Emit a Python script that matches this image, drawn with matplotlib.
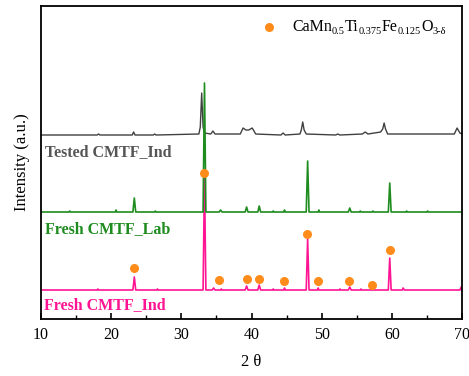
import matplotlib
matplotlib.use('Agg')
import matplotlib.pyplot as plt
from matplotlib.ticker import MultipleLocator

# XRD patterns (intensity in a.u., offset already included)
tested_x = [10, 18.0, 18.2, 18.4, 23.0, 23.2, 23.4, 26.0, 26.2, 26.4, 32.5, 32.7, 32.9, 33.1, 33.3,
            34.2, 34.5, 34.8, 38.4, 38.8, 39.2, 39.6, 40.1, 40.6, 44.2, 44.5, 44.8,
            46.9, 47.1, 47.3, 47.5, 47.8, 52.0, 52.3, 52.6, 55.8, 56.2, 56.6, 57.5, 58.4,
            58.7, 58.9, 59.1, 59.4, 66.0, 68.9, 69.3, 69.7, 70]
tested_y = [184, 184, 185, 184, 184, 187, 184, 184, 185, 184, 185, 192, 226, 192, 186,
            185, 188, 185, 185, 191, 189, 189, 191, 185, 184, 186, 184,
            185, 189, 197, 189, 185, 184, 185, 184, 185, 187, 185, 186, 187,
            190, 196, 190, 185, 185, 185, 191, 186, 185]

lab_x = [10, 14.0, 14.1, 14.2, 20.6, 20.7, 20.8, 23.1, 23.3, 23.5, 26.2, 26.3, 26.4,
         33.1, 33.3, 33.5, 35.4, 35.6, 35.8, 39.1, 39.3, 39.5, 40.9, 41.1, 41.3,
         43.0, 43.1, 43.2, 44.6, 44.7, 44.8, 47.8, 48.0, 48.2, 49.5, 49.6, 49.7,
         53.8, 54.0, 54.2, 55.4, 55.5, 55.6, 57.2, 57.3, 57.4, 59.5, 59.7, 59.9,
         62.0, 62.1, 62.2, 65.0, 65.1, 65.2, 70]
lab_y = [107, 107, 108, 107, 107, 109, 107, 107, 121, 107, 107, 108, 107,
         107, 236, 107, 107, 109, 107, 107, 112, 107, 107, 113, 107,
         107, 108, 107, 107, 109, 107, 107, 158, 107, 107, 109, 107,
         107, 111, 107, 107, 108, 107, 107, 108, 107, 107, 136, 107,
         107, 108, 107, 107, 108, 107, 107]

ind_x = [10, 18.0, 18.1, 18.2, 23.1, 23.3, 23.5, 26.5, 26.6, 26.7, 33.1, 33.3, 33.5,
         34.4, 34.6, 34.8, 35.6, 35.7, 35.8, 39.1, 39.3, 39.5, 40.9, 41.1, 41.3,
         43.0, 43.1, 43.2, 44.6, 44.7, 44.8, 47.8, 48.0, 48.2, 49.4, 49.5, 49.6,
         52.5, 52.6, 52.7, 53.8, 54.0, 54.2, 55.5, 55.6, 55.7, 59.5, 59.7, 59.9,
         61.5, 61.6, 61.8, 69.7, 69.9, 70]
ind_y = [29, 29, 30, 29, 29, 42, 29, 29, 30, 29, 29, 141, 29,
         29, 31, 29, 29, 30, 29, 29, 33, 29, 29, 34, 29,
         29, 30, 29, 29, 31, 29, 29, 80, 29, 29, 31, 29,
         29, 30, 29, 29, 32, 29, 29, 30, 29, 29, 61, 29,
         29, 31, 29, 29, 32, 29]

# phase markers
dot_x = [23.3, 33.3, 35.3, 39.3, 41.1, 44.7, 47.9, 49.5, 53.9, 57.2, 59.7]
dot_y = [51, 146, 39, 40, 40, 38, 85, 38, 38, 34, 69]

# legend formula, split into (text, is_subscript)
formula = [('CaMn', False), ('0.5', True), ('Ti', False), ('0.375', True),
           ('Fe', False), ('0.125', True), ('O', False), ('3-δ', True)]

gray = '#404040'
green = '#1f8c1f'
pink = '#ff1493'
orange = '#ff8c1a'

plt.rcParams['font.family'] = ['Liberation Serif', 'DejaVu Serif']

fig = plt.figure(figsize=(4.69, 3.76), dpi=100)
ax = fig.add_axes([0.0874, 0.1516, 0.8977, 0.8324])

ax.plot(tested_x, tested_y, color=gray, lw=1.0)
ax.plot(ind_x, ind_y, color=pink, lw=1.2)
ax.plot(lab_x, lab_y, color=green, lw=1.2)
ax.plot(dot_x, dot_y, 'o', color=orange, ms=6.5, mec='none')

# legend: marker + formula built piece by piece (small, low subscripts)
ax.plot([42.5], [292], 'o', color=orange, ms=6.5, mec='none')
prev = ax.text(45.8, 292, formula[0][0], fontsize=11.5, va='center', ha='left')
prev_sub = False
for txt, sub in formula[1:]:
    if sub:
        dy, fs = -0.8, 7.5
    else:
        dy, fs = 0.8, 11.5
    if sub == prev_sub:
        dy = 0
    prev = ax.annotate(txt, xy=(1, 0), xycoords=prev, xytext=(0, dy),
                       textcoords='offset points', fontsize=fs,
                       va='bottom', ha='left')
    prev_sub = sub

# sample labels
ax.text(10.6, 167, 'Tested CMTF_Ind', color='#555555', fontsize=11.5,
        fontweight='bold', va='center')
ax.text(10.6, 90, 'Fresh CMTF_Lab', color=green, fontsize=11.5,
        fontweight='bold', va='center')
ax.text(10.5, 14, 'Fresh CMTF_Ind', color=pink, fontsize=11.5,
        fontweight='bold', va='center')

ax.set_xlim(10, 70)
ax.set_ylim(0, 313)
ax.set_yticks([])
ax.xaxis.set_major_locator(MultipleLocator(10))
ax.xaxis.set_minor_locator(MultipleLocator(5))
ax.tick_params(axis='x', which='major', direction='in', length=4, width=1.2,
               labelsize=11.5, pad=6)
ax.tick_params(axis='x', which='minor', direction='in', length=3, width=1.0)
for sp in ax.spines.values():
    sp.set_linewidth(1.3)

ax.set_xlabel('2 θ', fontsize=12, labelpad=8)
ax.set_ylabel('Intensity (a.u.)', fontsize=12, labelpad=8)

fig.savefig('out.png', dpi=100)
